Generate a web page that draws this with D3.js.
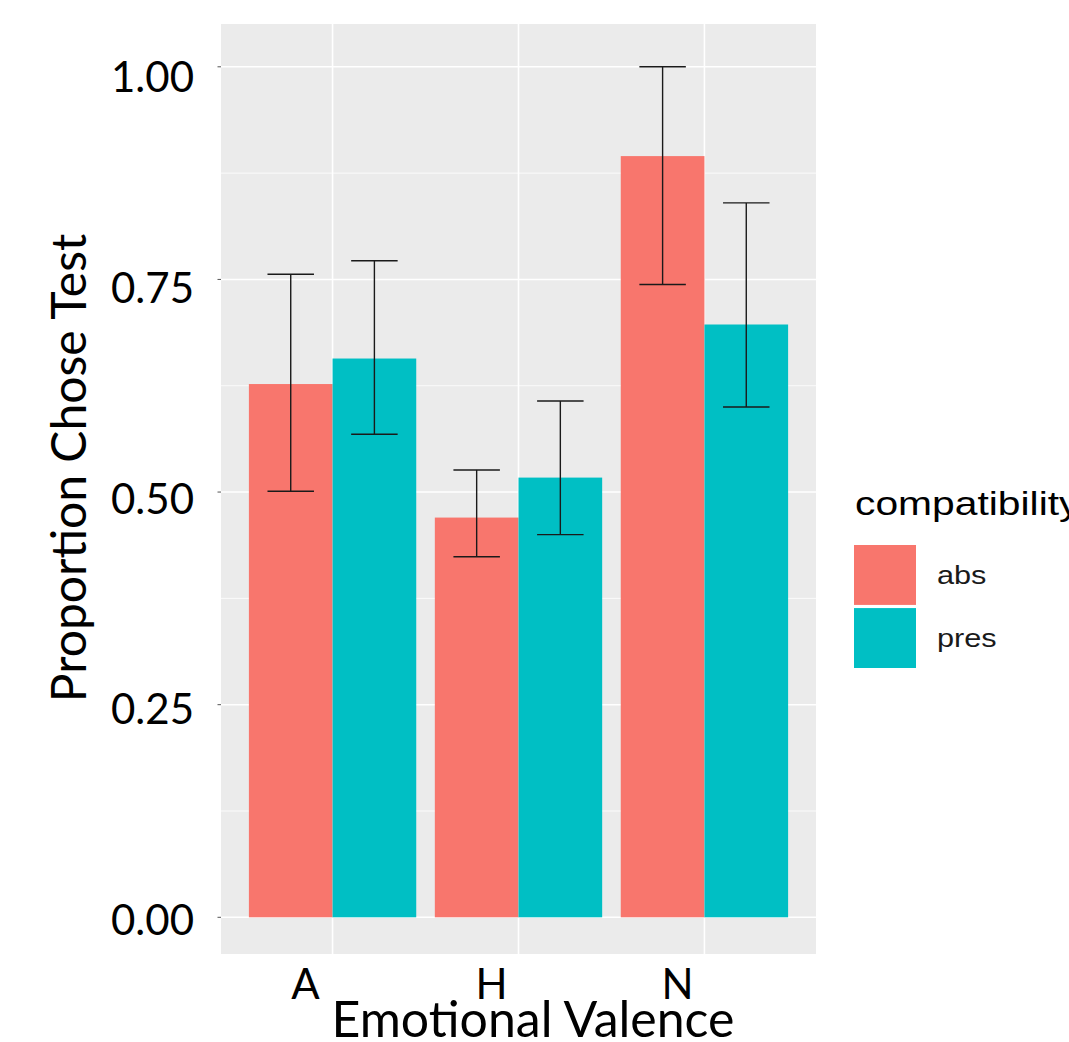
<!DOCTYPE html>
<html>
<head>
<meta charset="utf-8">
<script src="https://cdn.jsdelivr.net/npm/d3@7"></script>
<style>
  html, body { margin: 0; padding: 0; background: #ffffff; }
  svg { display: block; }
</style>
</head>
<body>
<svg id="chart" width="1069" height="1042"></svg>
<script>
// Proportion of trials on which the test item was chosen, by emotional valence
const categories = ["A", "H", "N"];
const groups = ["abs", "pres"];
const meanAbs  = [0.627, 0.470, 0.895];
const meanPres = [0.657, 0.517, 0.697];
const lowerAbs  = [0.501, 0.424, 0.744];
const upperAbs  = [0.756, 0.526, 1.000];
const lowerPres = [0.568, 0.450, 0.600];
const upperPres = [0.772, 0.607, 0.840];
const yTicks = [0, 0.25, 0.5, 0.75, 1.0];
const yMinor = [0.125, 0.375, 0.625, 0.875];
const yTickLabels = ["0.00", "0.25", "0.50", "0.75", "1.00"];
const colors = ["#F8766D", "#00BFC4"];

const rows = [];
categories.forEach((c, i) => {
  rows.push({ cat: c, grp: "abs",  mean: meanAbs[i],  lo: lowerAbs[i],  hi: upperAbs[i] });
  rows.push({ cat: c, grp: "pres", mean: meanPres[i], lo: lowerPres[i], hi: upperPres[i] });
});

const svg = d3.select("#chart");
const panel = { left: 221, right: 816, top: 24, bottom: 954 };

const x = d3.scaleBand().domain(categories).range([panel.left, panel.right])
  .paddingInner(0.1).paddingOuter(0.15);
const xSub = d3.scaleBand().domain(groups).range([0, x.bandwidth()]);
const y = d3.scaleLinear().domain([0, 1]).range([917.3, 66.8]);
const color = d3.scaleOrdinal().domain(groups).range(colors);
const catCenter = c => x(c) + x.bandwidth() / 2;

// panel background
svg.append("rect")
  .attr("x", panel.left).attr("y", panel.top)
  .attr("width", panel.right - panel.left).attr("height", panel.bottom - panel.top)
  .attr("fill", "#EBEBEB");

// grid lines
svg.append("g").selectAll("line").data(yMinor).join("line")
  .attr("x1", panel.left).attr("x2", panel.right)
  .attr("y1", d => y(d)).attr("y2", d => y(d))
  .attr("stroke", "#ffffff").attr("stroke-width", 0.8);
svg.append("g").selectAll("line").data(yTicks).join("line")
  .attr("x1", panel.left).attr("x2", panel.right)
  .attr("y1", d => y(d)).attr("y2", d => y(d))
  .attr("stroke", "#ffffff").attr("stroke-width", 1.6);
svg.append("g").selectAll("line").data(categories).join("line")
  .attr("x1", d => catCenter(d)).attr("x2", d => catCenter(d))
  .attr("y1", panel.top).attr("y2", panel.bottom)
  .attr("stroke", "#ffffff").attr("stroke-width", 1.6);

// bars
svg.append("g").selectAll("rect").data(rows).join("rect")
  .attr("x", d => x(d.cat) + xSub(d.grp))
  .attr("width", xSub.bandwidth())
  .attr("y", d => y(d.mean))
  .attr("height", d => y(0) - y(d.mean))
  .attr("fill", d => color(d.grp));

// error bars
const half = x.step() * 0.125;
const eb = svg.append("g").attr("stroke", "#1a1a1a").attr("stroke-width", 1.4);
rows.forEach(d => {
  const cx = x(d.cat) + xSub(d.grp) + xSub.bandwidth() / 2;
  eb.append("line").attr("x1", cx).attr("x2", cx).attr("y1", y(d.hi)).attr("y2", y(d.lo));
  eb.append("line").attr("x1", cx - half).attr("x2", cx + half).attr("y1", y(d.hi)).attr("y2", y(d.hi));
  eb.append("line").attr("x1", cx - half).attr("x2", cx + half).attr("y1", y(d.lo)).attr("y2", y(d.lo));
});

// y tick marks
svg.append("g").selectAll("line").data(yTicks).join("line")
  .attr("x1", panel.left - 3.5).attr("x2", panel.left)
  .attr("y1", d => y(d)).attr("y2", d => y(d))
  .attr("stroke", "#555").attr("stroke-width", 1);

// axis text
const axisFont = "Lato, 'Open Sans', sans-serif";
const yLabelPos = d3.scaleLinear().domain([0, 1]).range([920, 77]);
svg.append("g").selectAll("text").data(yTicks).join("text")
  .attr("x", 194).attr("y", d => yLabelPos(d))
  .attr("dy", "0.36em")
  .attr("text-anchor", "end")
  .attr("font-family", axisFont).attr("font-size", 42).attr("fill", "#000")
  .text((d, i) => yTickLabels[i]);

svg.append("g").selectAll("text").data(categories).join("text")
  .attr("x", d => catCenter(d) - 27).attr("y", 999)
  .attr("text-anchor", "middle")
  .attr("font-family", axisFont).attr("font-size", 42).attr("fill", "#000")
  .text(d => d);

svg.append("text")
  .attr("x", 533).attr("y", 1037)
  .attr("text-anchor", "middle")
  .attr("font-family", axisFont).attr("font-size", 50).attr("fill", "#000")
  .text("Emotional Valence");

svg.append("text")
  .attr("transform", "translate(86,468) rotate(-90)")
  .attr("text-anchor", "middle")
  .attr("font-family", axisFont).attr("font-size", 48).attr("fill", "#000")
  .text("Proportion Chose Test");

// legend
const legendFont = "'Liberation Sans', Arial, sans-serif";
const legend = svg.append("g");
legend.append("text")
  .attr("transform", "translate(855,515) scale(1.2,1)")
  .attr("font-family", legendFont).attr("font-size", 34).attr("fill", "#000")
  .text("compatibility");
const keyY = d3.scaleBand().domain(groups).range([545, 668]).paddingInner(0.05);
legend.selectAll("rect").data(groups).join("rect")
  .attr("x", 854).attr("width", 62)
  .attr("y", d => keyY(d)).attr("height", keyY.bandwidth())
  .attr("fill", d => color(d));
legend.selectAll("text.lab").data(groups).join("text")
  .attr("class", "lab")
  .attr("transform", d => `translate(937,${keyY(d) + keyY.bandwidth() / 2 + 9}) scale(1.18,1)`)
  .attr("font-family", legendFont).attr("font-size", 26).attr("fill", "#1a1a1a")
  .text(d => d);
</script>
</body>
</html>
